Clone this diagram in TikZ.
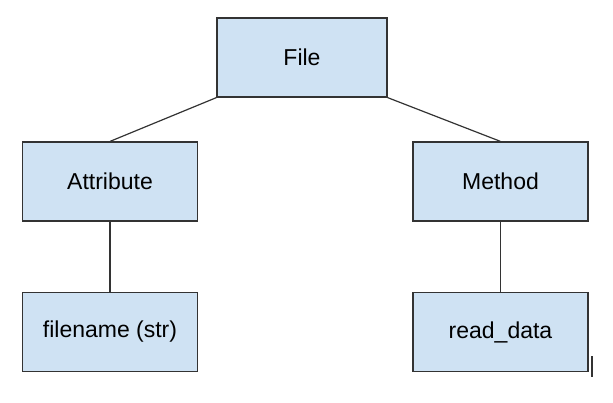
\documentclass[tikz,border=0pt]{standalone}
\usepackage{fontspec}
\setmainfont{Liberation Sans}
\definecolor{boxblue}{HTML}{CFE2F3}
\definecolor{boxline}{HTML}{333333}
\tikzset{
	block/.style={draw=boxline,fill=boxblue,line width=1.2pt,minimum width=175pt,minimum height=79pt,inner sep=0pt,font=\fontsize{23}{27}\selectfont},
	link/.style={draw=boxline,line width=1.2pt}
}
\begin{document}
\begin{tikzpicture}[x=1pt,y=-1pt]
		\useasboundingbox (0,0) rectangle (613,402);
		\node[block,minimum width=170pt] (file) at (302,57.5) {File};
		\node[block] (attr) at (110,181.5) {Attribute};
		\node[block] (meth) at (500.5,181.5) {Method};
		\node[block] (fname) at (110,332) {filename (str)};
		\node[block] (read) at (500.5,332) {read\_data};
		\draw[link] (file.south west) -- (attr.north);
		\draw[link] (file.south east) -- (meth.north);
		\draw[link] (attr) -- (fname);
		\draw[link] (meth) -- (read);
		\draw[link] (592,356) -- (592,377);
	\end{tikzpicture}
\end{document}
